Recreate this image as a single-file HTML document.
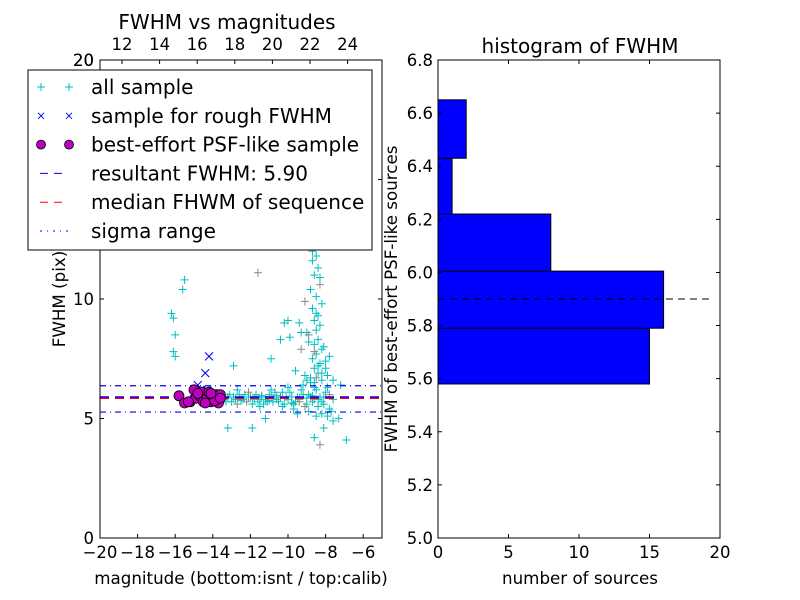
<!DOCTYPE html>
<html><head><meta charset="utf-8"><style>
body{margin:0;background:#fff}
svg{display:block;font-family:"DejaVu Sans","Liberation Sans",sans-serif}
</style></head><body>
<svg id="c" width="800" height="600" viewBox="0 0 800 600"></svg>
<script>
// ---- scatter data (bottom magnitude, FWHM pix) ----
const allX = [-16.2,-16.1,-16.0,-16.1,-16.0,-15.6,-15.5,-12.9,-11.6,-13.2,-11.9,-11.2,-9.8,-10.0,-10.4,-10.9,-9.6,-8.3,-8.6,-6.9,-8.1,-7.6,-7.3,-9.9,-10.2,-9.3,-9.1,-7.9,-7.2,
 -13.4,-13.2,-13.0,-12.8,-12.6,-12.4,-12.2,-12.0,-11.8,-11.6,-11.4,-11.2,-11.0,-10.8,-10.6,-10.4,-10.2,-10.0,-9.8,-9.6,-9.4,-9.2,-9.0,-8.8,-8.6,-8.4,-8.2,-8.0,-7.8,-7.6,
 -13.3,-13.1,-12.9,-12.7,-12.5,-12.3,-12.1,-11.9,-11.7,-11.5,-11.3,-11.1,-10.9,-10.7,-10.5,-10.3,-10.1,-9.9,-9.7,-9.5,-9.3,-9.1,-8.9,-8.7,-8.5,-8.3,-8.1,-7.9,-7.7,
 -12.7,-12.1,-11.5,-10.9,-10.3,-9.7,-9.2,-8.9,-8.6,-8.2,-7.8,-10.0,-9.5,-9.0,-8.5,
 -8.7,-8.5,-8.4,-8.6,-8.3,-8.8,-8.5,-8.2,-8.7,-8.4,-8.6,-8.3,-8.5,-8.9,-8.4,-8.6,-8.2,-8.5,-8.7,-8.3,-8.6,-8.4,-8.5,-8.8,-8.2,-8.6,-8.4,-8.7,-8.3,-8.5,-8.1,-8.6,-8.4,-8.9,-8.0,-7.9,-8.2,-7.8,-8.0,-7.6,-9.3,-9.0,-8.8,-9.4,-9.1,
 -12.5,-11.8,-11.0,-10.6,-9.4,-9.0,-8.7,-8.4,-8.1,-9.8,-10.8,-11.4];
const allY = [9.4,9.2,8.5,7.8,7.6,10.4,10.8,7.2,11.1,4.6,4.6,5.0,12.2,9.1,8.3,7.5,7.0,3.9,4.2,4.1,4.6,4.9,5.0,8.4,9.0,8.6,9.9,5.1,6.4,
 5.8,5.9,5.7,5.8,6.0,5.8,5.7,5.9,5.8,5.7,5.9,5.8,6.0,5.7,5.8,5.9,5.6,5.8,5.9,5.7,5.8,6.0,5.6,5.9,5.8,5.5,5.7,6.1,5.4,5.8,
 5.7,6.0,5.9,5.6,5.8,6.0,5.9,5.6,6.0,5.8,5.6,5.7,5.9,6.1,5.7,5.5,5.9,6.1,5.6,5.9,6.2,5.5,6.0,5.7,6.2,5.9,5.6,6.3,5.3,
 6.2,6.1,5.5,6.2,6.1,5.4,6.4,5.3,6.5,5.2,6.0,6.3,5.2,6.6,5.1,
 12.0,11.8,11.3,11.0,10.6,10.4,10.1,9.8,9.6,9.3,9.1,8.9,8.7,8.5,8.3,8.1,7.9,7.7,7.5,7.3,7.1,6.9,6.7,6.5,6.6,6.3,12.3,11.6,10.9,9.4,8.0,7.8,7.2,8.2,7.4,6.8,6.9,7.6,7.1,6.6,7.9,8.6,6.7,9.0,6.8,
 5.75,5.85,5.75,5.95,5.7,5.85,5.95,5.8,5.9,5.65,5.85,5.95];
const roughX = [-14.2,-14.4,-14.8,-14.6,-15.0,-14.3];
const roughY = [7.6,6.9,6.4,6.2,6.1,6.2];
const bestX = [-15.8,-15.5,-15.2,-15.0,-14.9,-14.7,-14.6,-14.5,-14.3,-14.2,-14.1,-14.0,-13.9,-13.8,-13.7,-13.6,-15.3,-14.8,-14.4,-13.9,-14.1,-13.6];
const bestY = [5.95,5.65,5.7,6.2,5.85,5.95,6.1,5.7,5.85,6.1,5.7,5.9,5.85,6.0,5.65,6.0,5.7,6.05,5.65,5.75,6.05,5.85];
const resultFWHM = 5.90, medianFWHM = 5.89, sigLo = 5.27, sigHi = 6.37;
const xTicks = [-20,-18,-16,-14,-12,-10,-8,-6];
const topTicks = [12,14,16,18,20,22,24];
const yTicks = [0,5,10,15,20];
// ---- histogram data ----
const binEdges = [5.58,5.79,6.005,6.22,6.43,6.65];
const counts = [15,16,8,1,2];
const hYTicks = [5.0,5.2,5.4,5.6,5.8,6.0,6.2,6.4,6.6,6.8];
const hXTicks = [0,5,10,15,20];

const NS="http://www.w3.org/2000/svg", svg=document.getElementById('c');
function el(t,a,p){const e=document.createElementNS(NS,t);for(const k in a)e.setAttribute(k,a[k]);(p||svg).appendChild(e);return e;}
function txt(x,y,s,sz,anc,p,rot){const e=el('text',{x:x,y:y,'font-size':sz,'text-anchor':anc||'middle',fill:'#000'},p);if(rot)e.setAttribute('transform',`rotate(-90 ${x} ${y})`);e.textContent=s;return e;}

const L={x0:100,x1:382,y0:60,y1:538};
const sx=v=>L.x0+(v+20)/15*(L.x1-L.x0);
const tx=v=>122+(v-12)*18.8;
const sy=v=>L.y1-v/20*(L.y1-L.y0);
const gL=el('g',{});


el('rect',{x:L.x0,y:L.y0,width:L.x1-L.x0,height:L.y1-L.y0,fill:'#fff',stroke:'none'},gL);
const pts=el('g',{},gL);


allX.forEach((v,i)=>{const x=sx(v),y=sy(allY[i]);el('path',{d:`M${x-4},${y}h8M${x},${y-4}v8`,stroke:(i%9==8)?'#888':'#00bfbf','stroke-width':1},pts);});
const lg=el('g',{},gL);


el('line',{x1:L.x0,x2:L.x1,y1:sy(sigHi),y2:sy(sigHi),stroke:'#0000ff','stroke-dasharray':'6,4,1,4','stroke-width':1.2},lg);
el('line',{x1:L.x0,x2:L.x1,y1:sy(sigLo),y2:sy(sigLo),stroke:'#0000ff','stroke-dasharray':'6,4,1,4','stroke-width':1.2},lg);
el('line',{x1:L.x0,x2:L.x1,y1:sy(medianFWHM)+1,y2:sy(medianFWHM)+1,stroke:'#ff0000','stroke-dasharray':'9,6','stroke-width':1.6},lg);
el('line',{x1:L.x0,x2:L.x1,y1:sy(resultFWHM),y2:sy(resultFWHM),stroke:'#0000ff','stroke-dasharray':'9,6','stroke-width':1.6},lg);
const rg=el('g',{},gL);


roughX.forEach((v,i)=>{const x=sx(v),y=sy(roughY[i]);el('path',{d:`M${x-4},${y-4}l8,8M${x+4},${y-4}l-8,8`,stroke:'#0000ff','stroke-width':1},rg);});
const bg=el('g',{},gL);


bestX.forEach((v,i)=>{el('circle',{cx:sx(v),cy:sy(bestY[i]),r:5,fill:'#bf00bf',stroke:'#000','stroke-width':0.8},bg);});
el('rect',{x:L.x0,y:L.y0,width:L.x1-L.x0,height:L.y1-L.y0,fill:'none',stroke:'#000','stroke-width':1},gL);
xTicks.forEach(v=>{const x=sx(v);el('path',{d:`M${x},${L.y1}v-4`,stroke:'#000'},gL);txt(x,558,(v<0?'\u2212':'')+Math.abs(v),16.5,'middle',gL);});
topTicks.forEach(v=>{const x=tx(v);el('path',{d:`M${x},${L.y0}v4`,stroke:'#000'},gL);txt(x,50,''+v,16.5,'middle',gL);});
yTicks.forEach(v=>{const y=sy(v);el('path',{d:`M${L.x0},${y}h4M${L.x1},${y}h-4`,stroke:'#000'},gL);txt(94,y+6,''+v,16.5,'end',gL);});
const t1=txt(227,29,'FWHM vs magnitudes',20,'middle',gL);

const t2=txt(241,584,'magnitude (bottom:isnt / top:calib)',16.7,'middle',gL);

const t3=txt(65,299,'FWHM (pix)',16.7,'middle',gL,true);


const R={x0:438,x1:720,y0:60,y1:538};
const hx=v=>R.x0+v/20*(R.x1-R.x0);
const hy=v=>R.y1-(v-5)/1.8*(R.y1-R.y0);
const gR=el('g',{});


counts.forEach((c,i)=>{const r=el('rect',{x:hx(0),y:hy(binEdges[i+1]),width:hx(c)-hx(0),height:hy(binEdges[i])-hy(binEdges[i+1]),fill:'#0000ff',stroke:'#000','stroke-width':1},gR);

});
el('line',{x1:R.x0,x2:710,y1:hy(resultFWHM),y2:hy(resultFWHM),stroke:'#000','stroke-dasharray':'7,5','stroke-width':1},gR);
el('rect',{x:R.x0,y:R.y0,width:R.x1-R.x0,height:R.y1-R.y0,fill:'none',stroke:'#000'},gR);
hYTicks.forEach(v=>{const y=hy(v);el('path',{d:`M${R.x0},${y}h4M${R.x1},${y}h-4`,stroke:'#000'},gR);txt(433,y+6,v.toFixed(1),16.5,'end',gR);});
hXTicks.forEach(v=>{const x=hx(v);el('path',{d:`M${x},${R.y1}v-4M${x},${R.y0}v4`,stroke:'#000'},gR);txt(x,558,''+v,16.5,'middle',gR);});
const t4=txt(580,53,'histogram of FWHM',20,'middle',gR);

const t5=txt(580,584,'number of sources',16.7,'middle',gR);

const t6=txt(397,299,'FWHM of best-effort PSF-like sources',16.7,'middle',gR,true);


const lgd=el('g',{});


el('rect',{x:28,y:70,width:344,height:180,fill:'#fff',stroke:'#000','stroke-width':1},lgd);
const labels=['all sample','sample for rough FWHM','best-effort PSF-like sample','resultant FWHM: 5.90','median FHWM of sequence','sigma range'];
labels.forEach((s,i)=>{const y=87+i*28.8;const g=el('g',{},lgd);
 
 
 if(i==0){[41,69].forEach(x=>el('path',{d:`M${x-4},${y}h8M${x},${y-4}v8`,stroke:'#00bfbf'},g));}
 if(i==1){[41,69].forEach(x=>el('path',{d:`M${x-3},${y-3}l6,6M${x+3},${y-3}l-6,6`,stroke:'#0000ff'},g));}
 if(i==2){[41,69].forEach(x=>el('circle',{cx:x,cy:y,r:4.5,fill:'#bf00bf',stroke:'#000','stroke-width':0.8},g));}
 if(i==3)el('line',{x1:40,x2:68,y1:y,y2:y,stroke:'#0000ff','stroke-dasharray':'8,6'},g);
 if(i==4)el('line',{x1:40,x2:68,y1:y,y2:y,stroke:'#ff0000','stroke-dasharray':'8,6'},g);
 if(i==5)el('line',{x1:40,x2:68,y1:y,y2:y,stroke:'#0000ff','stroke-dasharray':'2,5,1,5'},g);
 txt(91,y+7,s,20,'start',g);});
txt(94,66,'20',16.5,'end');
</script>
</body></html>
